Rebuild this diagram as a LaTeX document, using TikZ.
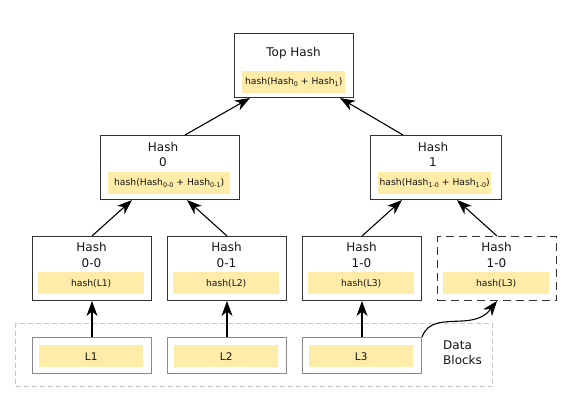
\documentclass[tikz,border=0pt]{standalone}
\usepackage{fontspec}
\setmainfont{DejaVu Sans}
\usetikzlibrary{arrows.meta,calc}
\definecolor{barc}{HTML}{FFECA8}
\definecolor{boxc}{HTML}{333333}
\definecolor{datac}{HTML}{8A8A8A}
\definecolor{dbc}{HTML}{C8C8C8}
\definecolor{txt}{HTML}{141414}
\newcommand{\sbs}[1]{\raisebox{-0.45ex}{\fontsize{6.4}{7}\selectfont #1}}
\tikzset{
  hbox/.style={draw=boxc, line width=1pt, fill=white, anchor=north west, minimum width=119pt, minimum height=64pt, inner sep=0pt},
  dbox/.style={draw=datac, line width=1pt, fill=white, anchor=north west, minimum width=119pt, minimum height=36pt, inner sep=0pt},
  ybar/.style={fill=barc, anchor=north west, inner sep=0pt, minimum height=22pt, text=txt, font=\fontsize{9.2}{10}\selectfont},
  ttl/.style={font=\fontsize{12}{15.5}\selectfont, align=center, inner sep=0pt, text=txt},
  arr/.style={-{Stealth[length=15pt,width=11pt,inset=4.5pt]}, line width=1.1pt, draw=black},
}
\begin{document}
\begin{tikzpicture}[x=1pt,y=-1pt]
\path[use as bounding box, fill=white] (0,0) rectangle (579,404);

% data blocks group
\node[draw=dbc, dash pattern=on 5pt off 3pt, line width=1pt, anchor=north west, minimum width=477pt, minimum height=63pt, inner sep=0pt] (db) at (15,323) {};
\node[ttl, align=left, anchor=west] (dbl) at (443,352.5) {Data\\Blocks};

% top hash
\node[hbox] (top) at (234,33) {};
\node[ttl] (topt) at (293.5,53) {Top Hash};
\node[ybar, minimum width=103pt] (topb) at (242,71) {hash(Hash\sbs{0} + Hash\sbs{1})};

% level 1
\node[hbox, minimum width=139pt] (h0) at (100,135) {};
\node[ttl] (h0t) at (163,154.5) {Hash\\0};
\node[ybar, minimum width=122pt] (h0b) at (108,172) {hash(Hash\sbs{0-0} + Hash\sbs{0-1})};

\node[hbox, minimum width=131pt] (h1) at (370,135) {};
\node[ttl] (h1t) at (433,154.5) {Hash\\1};
\node[ybar, minimum width=113pt] (h1b) at (378,172) {hash(Hash\sbs{1-0} + Hash\sbs{1-0})};

% level 2
\node[hbox] (h00) at (32,236) {};
\node[ttl] (h00t) at (91.5,255) {Hash\\0-0};
\node[ybar, minimum width=106pt] (h00b) at (38,272) {hash(L1)};

\node[hbox] (h01) at (167,236) {};
\node[ttl] (h01t) at (226.5,255) {Hash\\0-1};
\node[ybar, minimum width=106pt] (h01b) at (173,272) {hash(L2)};

\node[hbox] (h10) at (302,236) {};
\node[ttl] (h10t) at (361.5,255) {Hash\\1-0};
\node[ybar, minimum width=106pt] (h10b) at (308,272) {hash(L3)};

\node[hbox, draw=boxc, dash pattern=on 8pt off 5pt] (h10d) at (437,236) {};
\node[ttl] (h10dt) at (496.5,255) {Hash\\1-0};
\node[ybar, minimum width=106pt] (h10db) at (443,272) {hash(L3)};

% data blocks
\node[dbox] (l1) at (32,337) {};
\node[ybar, minimum width=104pt, font=\fontsize{10.5}{11}\selectfont] (l1b) at (39,345) {L1};
\node[dbox] (l2) at (167,337) {};
\node[ybar, minimum width=104pt, font=\fontsize{10.5}{11}\selectfont] (l2b) at (174,345) {L2};
\node[dbox] (l3) at (302,337) {};
\node[ybar, minimum width=104pt, font=\fontsize{10.5}{11}\selectfont] (l3b) at (309,345) {L3};

% arrows
\draw[arr] (l1.north) -- (h00.south);
\draw[arr] (l2.north) -- (h01.south);
\draw[arr] (l3.north) -- (h10.south);
\draw[arr] (h00.north) -- ($(h0.south west)+(32,0)$);
\draw[arr] (h01.north) -- ($(h0.south west)+(87,0)$);
\draw[arr] (h10.north) -- ($(h1.south west)+(32,0)$);
\draw[arr] (h10d.north) -- ($(h1.south west)+(87,0)$);
\draw[arr] ($(h0.north west)+(85,0)$) -- ($(top.south west)+(16,0)$);
\draw[arr] ($(h1.north west)+(33,0)$) -- ($(top.south west)+(106,0)$);
\draw[arr] (l3.north east) .. controls +(6,-16) and +(-20,1) .. ++(40,-16)
  .. controls +(22,-1) and +(-8,10) .. (h10d.south);
\end{tikzpicture}
\end{document}
